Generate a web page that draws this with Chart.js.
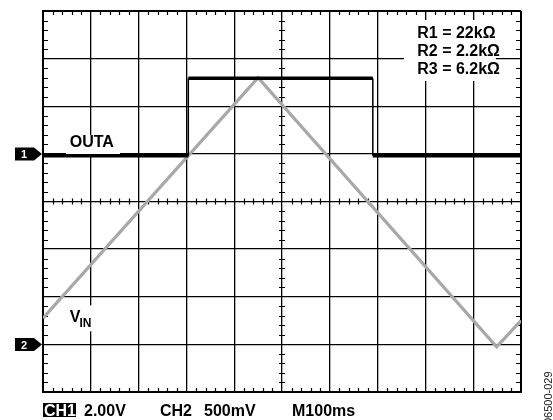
<!doctype html>
<html lang="en"><head>
<meta charset="utf-8"/>
<title>OUTA vs VIN scope capture</title>
<script src="https://cdn.jsdelivr.net/npm/chart.js@4.4.6/dist/chart.umd.min.js"></script>
<style>
  html,body{margin:0;padding:0;background:#fff}
  #wrap{width:553px;height:420px}
</style></head>
<body>
<div id="wrap"><canvas id="c" width="553" height="420"></canvas></div>
<script>
// screen is 10 x 8 divisions; values below are in divisions
const X_DIVS = 10, Y_DIVS = 8;
const vinX = [0, 4.5, 9.49, 10];
const vinY = [1.55, 6.6, 0.95, 1.5];
const outaX = [0, 3.04, 3.04, 6.9, 6.9, 10];
const outaY = [4.96, 4.96, 6.59, 6.59, 4.96, 4.96];
const chMarkers = [['1', 5], ['2', 1]];
const resistors = ['R1 = 22k\u03A9', 'R2 = 2.2k\u03A9', 'R3 = 6.2k\u03A9'];
const footer = [['2.00V', 84], ['CH2', 160], ['500mV', 204], ['M100ms', 292]];

const pts = (xs, ys) => xs.map((x, i) => ({x, y: ys[i]}));
const FONT = '"Liberation Sans", Arial, sans-serif';
const BOLD = 'bold 16px ' + FONT;

const scope = {
  id: 'scope',
  beforeDatasetsDraw(chart) {
    const {ctx, chartArea: a, scales: {x, y}} = chart;
    ctx.save();
    ctx.strokeStyle = '#000'; ctx.lineWidth = 1.2;
    ctx.beginPath();
    const cx = x.getPixelForValue(X_DIVS / 2), cy = y.getPixelForValue(Y_DIVS / 2);
    for (let i = 1; i < X_DIVS * 5; i++) {
      if (i % 5 === 0) continue;
      const px = Math.round(x.getPixelForValue(i / 5)) + 0.5;
      ctx.moveTo(px, a.top); ctx.lineTo(px, a.top + 4);
      ctx.moveTo(px, a.bottom); ctx.lineTo(px, a.bottom - 4);
      ctx.moveTo(px, cy - 3); ctx.lineTo(px, cy + 3);
    }
    for (let i = 1; i < Y_DIVS * 5; i++) {
      if (i % 5 === 0) continue;
      const py = Math.round(y.getPixelForValue(i / 5)) + 0.5;
      ctx.moveTo(a.left, py); ctx.lineTo(a.left + 5, py);
      ctx.moveTo(a.right, py); ctx.lineTo(a.right - 5, py);
      ctx.moveTo(cx - 3, py); ctx.lineTo(cx + 3, py);
    }
    ctx.stroke();
    // white patches behind in-plot labels
    ctx.fillStyle = '#fff';
    ctx.fillRect(x.getPixelForValue(7.55), a.top + 9, 92, 61);
    ctx.fillRect(x.getPixelForValue(0.48), y.getPixelForValue(5.4), 54, 21);
    ctx.fillRect(x.getPixelForValue(0.45), y.getPixelForValue(1.82), 44, 26);
    ctx.restore();
  },
  afterDatasetsDraw(chart) {
    const {ctx, chartArea: a, scales: {x, y}} = chart;
    ctx.save();
    ctx.fillStyle = '#000';
    ctx.font = BOLD;
    ctx.textBaseline = 'alphabetic';
    // resistor values
    const rx = x.getPixelForValue(7.83);
    resistors.forEach((t, i) => ctx.fillText(t, rx, a.top + 27 + i * 18));
    // trace names
    ctx.fillText('OUTA', x.getPixelForValue(0.56), y.getPixelForValue(5.15));
    const vx = x.getPixelForValue(0.56), vy = y.getPixelForValue(1.47);
    ctx.fillText('V', vx, vy);
    const vw = ctx.measureText('V').width;
    ctx.font = 'bold 12px ' + FONT;
    ctx.fillText('IN', vx + vw - 1, vy + 5);
    // channel ground markers
    chMarkers.forEach(([n, v]) => {
      const py = y.getPixelForValue(v), l = a.left;
      ctx.fillStyle = '#000';
      ctx.beginPath();
      ctx.moveTo(l - 28, py - 6.5); ctx.lineTo(l - 9, py - 6.5); ctx.lineTo(l - 1, py);
      ctx.lineTo(l - 9, py + 6.5); ctx.lineTo(l - 28, py + 6.5); ctx.closePath(); ctx.fill();
      ctx.fillStyle = '#fff';
      ctx.font = 'bold 11px ' + FONT;
      ctx.fillText(n, l - 22, py + 4.5);
    });
    // footer
    ctx.fillStyle = '#000';
    ctx.fillRect(a.left, 403, 33, 14);
    ctx.font = BOLD;
    ctx.fillStyle = '#fff';
    ctx.fillText('CH1', a.left + 1, 416);
    ctx.fillStyle = '#000';
    footer.forEach(([t, px]) => ctx.fillText(t, px, 416));
    // figure id, rotated
    ctx.translate(552, 424);
    ctx.rotate(-Math.PI / 2);
    ctx.font = '11px ' + FONT;
    ctx.fillStyle = '#222';
    ctx.fillText('06500-029', 0, 0);
    ctx.restore();
  }
};

const edge = (c, v) => c.tick.value === 0 || c.tick.value === v ? 2 : 1.3;

new Chart(document.getElementById('c'), {
  type: 'line',
  data: {
    datasets: [
      {label: 'OUTA', data: pts(outaX, outaY), borderColor: '#000', borderWidth: 3.5,
        pointRadius: 0, tension: 0,
        segment: {borderWidth: c => c.p0.parsed.x === c.p1.parsed.x ? 1.5 : 3.5}},
      {label: 'VIN', data: pts(vinX, vinY), borderColor: '#a8a8a8', borderWidth: 3.2,
        pointRadius: 0, tension: 0}
    ]
  },
  options: {
    responsive: false,
    animation: false,
    layout: {padding: {left: 43, top: 11, right: 32, bottom: 28}},
    plugins: {legend: {display: false}, tooltip: {enabled: false}},
    scales: {
      x: {type: 'linear', min: 0, max: X_DIVS,
        ticks: {display: false, stepSize: 1},
        grid: {color: '#000', lineWidth: c => edge(c, X_DIVS), drawTicks: false},
        border: {display: true, color: '#000', width: 2}},
      y: {type: 'linear', min: 0, max: Y_DIVS,
        ticks: {display: false, stepSize: 1},
        grid: {color: '#000', lineWidth: c => edge(c, Y_DIVS), drawTicks: false},
        border: {display: true, color: '#000', width: 2}}
    }
  },
  plugins: [scope]
});
</script>
</body></html>
